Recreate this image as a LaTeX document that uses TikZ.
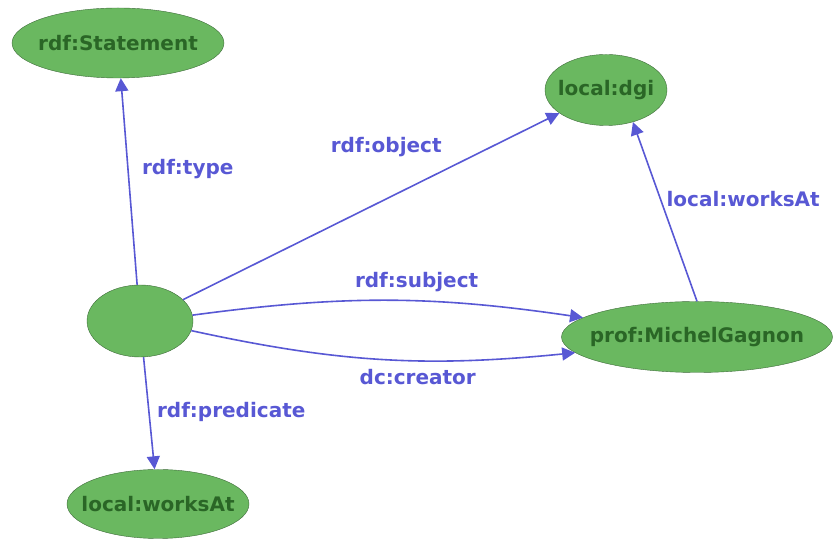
\documentclass[tikz,border=0pt]{standalone}
\usepackage{fontspec}
\setmainfont{DejaVu Sans}
\usepackage{tikz}
\usetikzlibrary{shapes,arrows.meta,positioning,calc}
\definecolor{resgreen}{RGB}{106,184,96}
\definecolor{resborder}{RGB}{62,108,58}
\definecolor{restext}{RGB}{42,102,38}
\definecolor{propblue}{RGB}{88,88,212}

\begin{document}
\begin{tikzpicture}[x=1pt,y=1pt,
    res/.style={ellipse,draw=resborder,fill=resgreen,inner sep=0pt,
                label={[text=restext,font=\fontsize{20}{24}\selectfont\bfseries]center:#1}},
    prop/.style={propblue,line width=1.6pt,-{Triangle[length=13pt,width=13pt]}},
    plabel/.style={text=propblue,font=\fontsize{20}{24}\selectfont\bfseries}]
            \useasboundingbox (0,0) rectangle (833,540);
            % resources
            \node[res=rdf:Statement,minimum width=212,minimum height=70] (stmt) at (118,497) {};
            \node[res=local:dgi,minimum width=122,minimum height=71] (dgi) at (606,450) {};
            \node[res=,minimum width=106,minimum height=72] (blank) at (140,219) {};
            \node[res=prof:MichelGagnon,minimum width=271,minimum height=71] (prof) at (697,203) {};
            \node[res=local:worksAt,minimum width=182,minimum height=69] (wat) at (158,36) {};
            % properties
            \draw[prop] (blank) -- node[plabel,pos=0.56,right=10pt] {rdf:type} (stmt);
            \draw[prop] (blank) -- node[plabel,pos=0.54,above=38pt] {rdf:object} (dgi);
            \draw[prop] (blank) to[bend left=8] node[plabel,pos=0.58,above=5pt] {rdf:subject} (prof);
            \draw[prop] (blank) to[bend right=9] node[plabel,pos=0.6,below=5pt] {dc:creator} (prof);
            \draw[prop] (blank) -- node[plabel,pos=0.49,right=4pt] {rdf:predicate} (wat);
            \draw[prop] (prof.north) -- node[plabel,pos=0.57,right=2pt] {local:worksAt} (dgi.-50);
        \end{tikzpicture}
\end{document}
